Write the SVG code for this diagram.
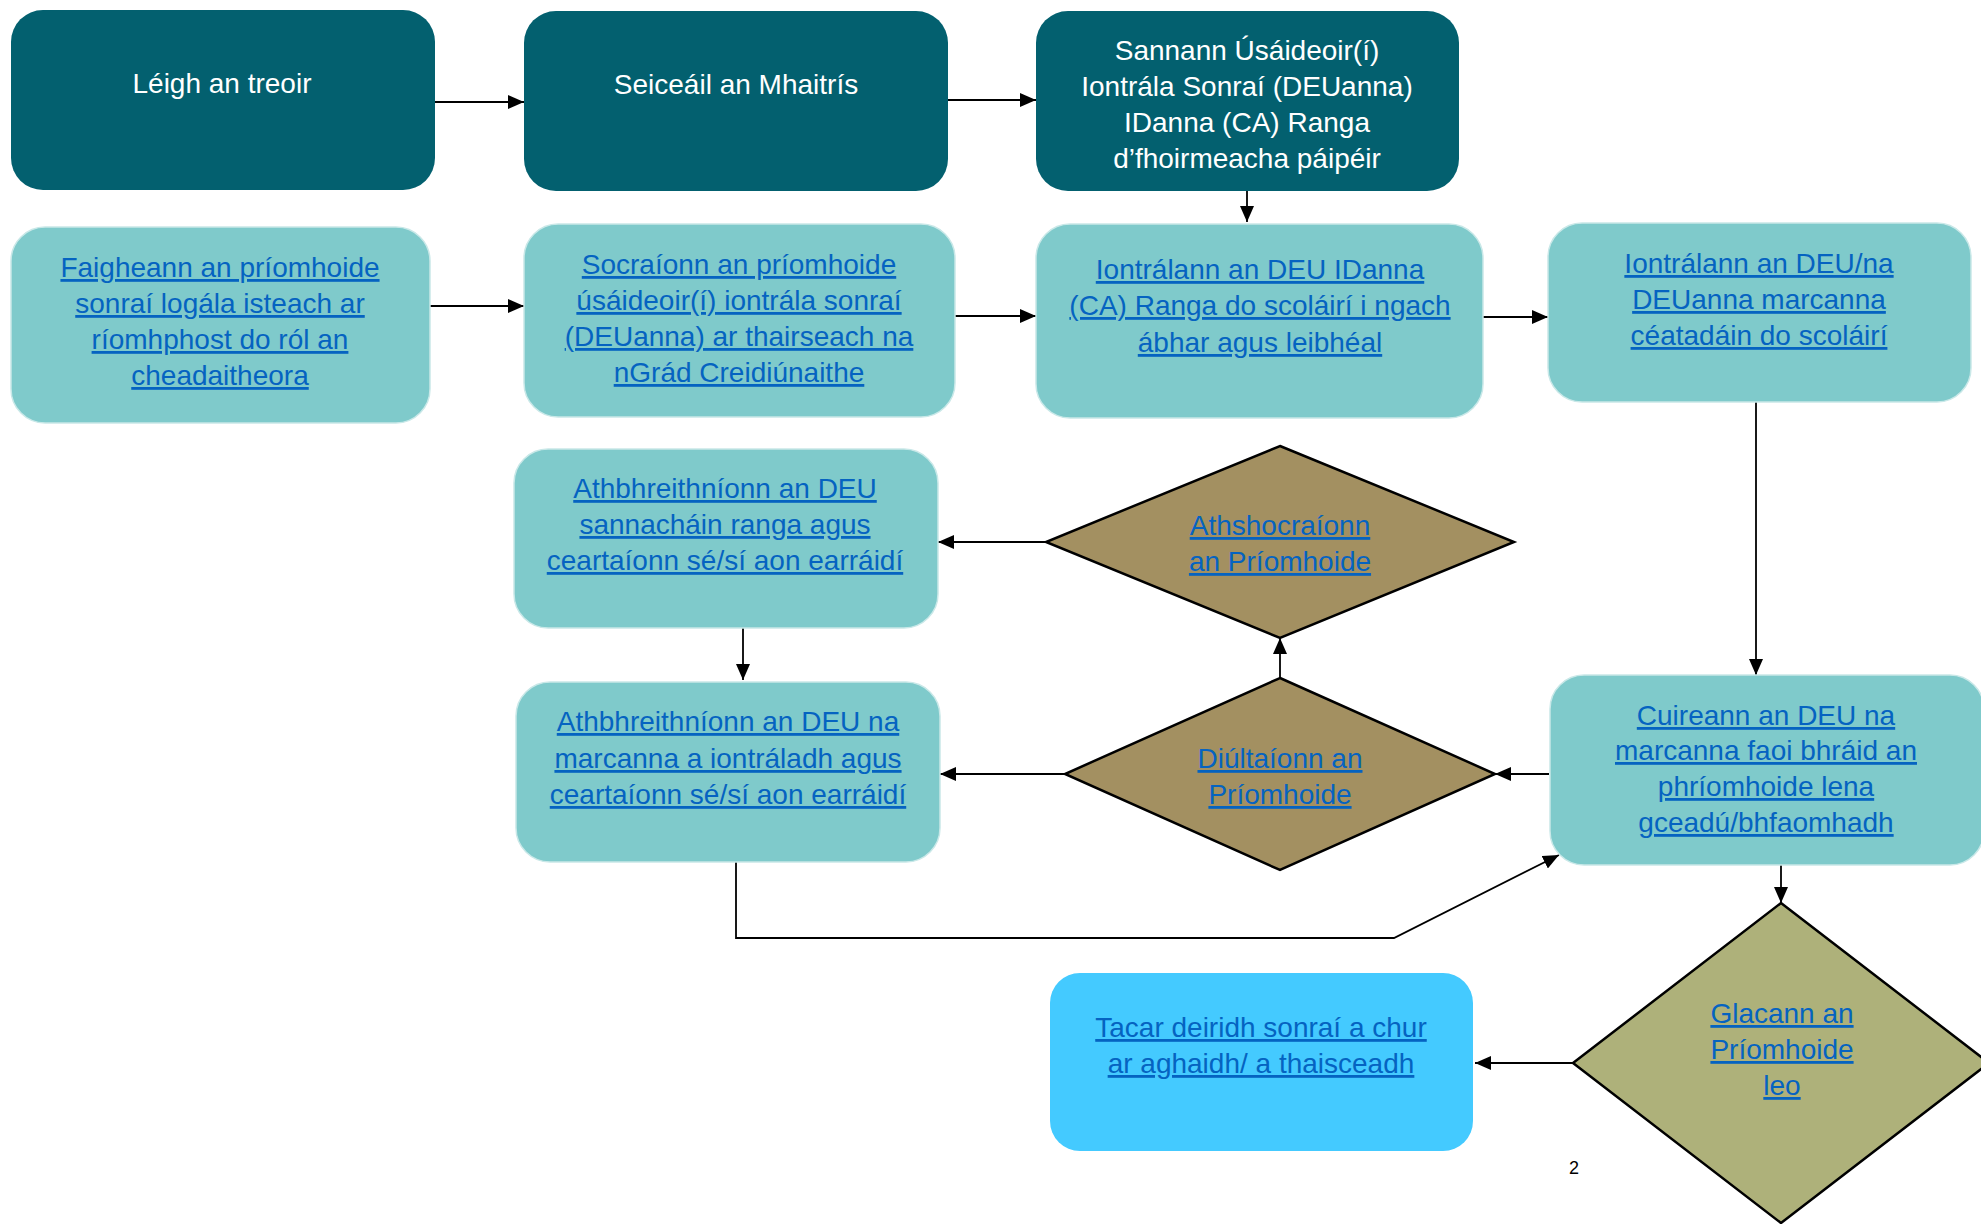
<svg xmlns="http://www.w3.org/2000/svg" width="1981" height="1224" viewBox="0 0 1981 1224">
<defs>
<style>
.dark{fill:#03606F;}
.light{fill:#7FCACB;stroke:#C9E8E8;stroke-width:1.5;}
.sky{fill:#44CAFF;}
.dia{fill:#A39061;stroke:#000;stroke-width:2.5;stroke-linejoin:miter;}
.dia2{fill:#AEB17A;stroke:#000;stroke-width:2.5;}
.tw{font-family:"Liberation Sans",Arial,sans-serif;font-size:28px;fill:#FFFFFF;text-anchor:middle;}
.tl{font-family:"Liberation Sans",Arial,sans-serif;font-size:28px;fill:#0563C1;text-anchor:middle;text-decoration:underline;}
.con{fill:none;stroke:#000;stroke-width:1.8;}
</style>
<marker id="ah" markerUnits="userSpaceOnUse" markerWidth="16" markerHeight="14" refX="16" refY="7" orient="auto">
<path d="M0,0 L16,7 L0,14 Z" fill="#000"/>
</marker>
</defs>
<rect width="1981" height="1224" fill="#FFFFFF"/>

<g id="connectors">
<line class="con" x1="435" y1="102" x2="524" y2="102" marker-end="url(#ah)"/>
<line class="con" x1="948" y1="100" x2="1036" y2="100" marker-end="url(#ah)"/>
<line class="con" x1="1247" y1="191" x2="1247" y2="222" marker-end="url(#ah)"/>
<line class="con" x1="430" y1="306" x2="524" y2="306" marker-end="url(#ah)"/>
<line class="con" x1="955" y1="316" x2="1036" y2="316" marker-end="url(#ah)"/>
<line class="con" x1="1483" y1="317" x2="1548" y2="317" marker-end="url(#ah)"/>
<line class="con" x1="1756" y1="402" x2="1756" y2="675" marker-end="url(#ah)"/>
<line class="con" x1="1047" y1="542" x2="938" y2="542" marker-end="url(#ah)"/>
<line class="con" x1="743" y1="628" x2="743" y2="680" marker-end="url(#ah)"/>
<line class="con" x1="1280" y1="678" x2="1280" y2="638" marker-end="url(#ah)"/>
<line class="con" x1="1066" y1="774" x2="940" y2="774" marker-end="url(#ah)"/>
<line class="con" x1="1549" y1="774" x2="1495" y2="774" marker-end="url(#ah)"/>
<polyline class="con" points="736,862 736,938 1394,938 1559,855" marker-end="url(#ah)"/>
<line class="con" x1="1781" y1="865" x2="1781" y2="903" marker-end="url(#ah)"/>
<line class="con" x1="1573" y1="1063" x2="1475" y2="1063" marker-end="url(#ah)"/>
</g>

<g id="n1">
<rect class="dark" x="11" y="10" width="424" height="180" rx="32"/>
<text class="tw" x="222" y="93">Léigh an treoir</text>
</g>
<g id="n2">
<rect class="dark" x="524" y="11" width="424" height="180" rx="32"/>
<text class="tw" x="736" y="94">Seiceáil an Mhaitrís</text>
</g>
<g id="n3">
<rect class="dark" x="1036" y="11" width="423" height="180" rx="32"/>
<text class="tw" x="1247" y="60">Sannann Úsáideoir(í)</text>
<text class="tw" x="1247" y="96">Iontrála Sonraí (DEUanna)</text>
<text class="tw" x="1247" y="132">IDanna (CA) Ranga</text>
<text class="tw" x="1247" y="168">d’fhoirmeacha páipéir</text>
</g>

<g id="nA">
<rect class="light" x="11" y="227" width="419" height="196" rx="34"/>
<text class="tl" x="220" y="277">Faigheann an príomhoide</text>
<text class="tl" x="220" y="313">sonraí logála isteach ar</text>
<text class="tl" x="220" y="349">ríomhphost do ról an</text>
<text class="tl" x="220" y="385">cheadaitheora</text>
</g>
<g id="nB">
<rect class="light" x="524" y="224" width="431" height="193" rx="34"/>
<text class="tl" x="739" y="274">Socraíonn an príomhoide</text>
<text class="tl" x="739" y="310">úsáideoir(í) iontrála sonraí</text>
<text class="tl" x="739" y="346">(DEUanna) ar thairseach na</text>
<text class="tl" x="739" y="382">nGrád Creidiúnaithe</text>
</g>
<g id="nC">
<rect class="light" x="1036" y="224" width="447" height="194" rx="34"/>
<text class="tl" x="1260" y="279">Iontrálann an DEU IDanna</text>
<text class="tl" x="1260" y="315">(CA) Ranga do scoláirí i ngach</text>
<text class="tl" x="1260" y="352">ábhar agus leibhéal</text>
</g>
<g id="nD">
<rect class="light" x="1548" y="223" width="423" height="179" rx="34"/>
<text class="tl" x="1759" y="273">Iontrálann an DEU/na</text>
<text class="tl" x="1759" y="309">DEUanna marcanna</text>
<text class="tl" x="1759" y="345">céatadáin do scoláirí</text>
</g>

<g id="nF">
<rect class="light" x="514" y="449" width="424" height="179" rx="34"/>
<text class="tl" x="725" y="498">Athbhreithníonn an DEU</text>
<text class="tl" x="725" y="534">sannacháin ranga agus</text>
<text class="tl" x="725" y="570">ceartaíonn sé/sí aon earráidí</text>
</g>
<g id="d1">
<polygon class="dia" points="1280,446 1514,542 1280,638 1046,542"/>
<text class="tl" x="1280" y="535">Athshocraíonn</text>
<text class="tl" x="1280" y="571">an Príomhoide</text>
</g>
<g id="nG">
<rect class="light" x="516" y="682" width="424" height="180" rx="34"/>
<text class="tl" x="728" y="731">Athbhreithníonn an DEU na</text>
<text class="tl" x="728" y="768">marcanna a iontráladh agus</text>
<text class="tl" x="728" y="804">ceartaíonn sé/sí aon earráidí</text>
</g>
<g id="d2">
<polygon class="dia" points="1280,678 1495,774 1280,870 1065,774"/>
<text class="tl" x="1280" y="768">Diúltaíonn an</text>
<text class="tl" x="1280" y="804">Príomhoide</text>
</g>
<g id="nE">
<rect class="light" x="1550" y="675" width="434" height="190" rx="34"/>
<text class="tl" x="1766" y="725">Cuireann an DEU na</text>
<text class="tl" x="1766" y="760">marcanna faoi bhráid an</text>
<text class="tl" x="1766" y="796">phríomhoide lena</text>
<text class="tl" x="1766" y="832">gceadú/bhfaomhadh</text>
</g>
<g id="d3">
<polygon class="dia2" points="1781,903 1989,1063 1781,1223 1573,1063"/>
<text class="tl" x="1782" y="1023">Glacann an</text>
<text class="tl" x="1782" y="1059">Príomhoide</text>
<text class="tl" x="1782" y="1095">leo</text>
</g>
<g id="nH">
<rect class="sky" x="1050" y="973" width="423" height="178" rx="30"/>
<text class="tl" x="1261" y="1037">Tacar deiridh sonraí a chur</text>
<text class="tl" x="1261" y="1073">ar aghaidh/ a thaisceadh</text>
</g>
<text x="1574" y="1174" font-family="Liberation Sans, Arial, sans-serif" font-size="18" fill="#000" text-anchor="middle">2</text>
</svg>
